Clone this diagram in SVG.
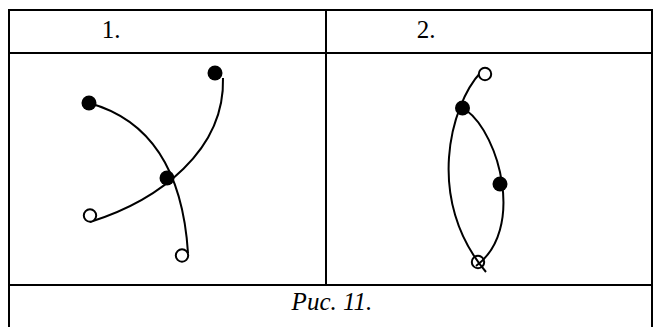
<svg xmlns="http://www.w3.org/2000/svg" width="653" height="327" viewBox="0 0 653 327">
<style>
.grid{stroke:#000;stroke-width:2;fill:none}
.crv{stroke:#000;stroke-width:2;fill:none}
.dot{fill:#000}
.ring{fill:#fff;stroke:#000;stroke-width:2}
.t{font-family:"Liberation Serif","Times New Roman",serif;font-size:25px;fill:#000}
.it{font-style:italic}
</style>
<g id="table">
<path class="grid" d="M9,327 V10 H652 V327 M9,53 H652 M9,285 H652 M326,10 V285"/>
</g>
<g id="header1"><text class="t" x="111" y="38" text-anchor="middle">1.</text></g>
<g id="header2"><text class="t" x="426" y="38" text-anchor="middle">2.</text></g>
<g id="caption"><text class="t it" x="332" y="310" text-anchor="middle">Рис. 11.</text></g>
<g id="connectors">
<path class="crv" d="M89,103 Q180,128 188,253"/>
<path class="crv" d="M223,78 C225,150 160,200 90,222"/>
<path class="crv" d="M481,72 C450,105 425,200 486,272"/>
<path class="crv" d="M466,110 C500,135 525,230 476,266"/>
</g>
<g id="p1a"><circle class="dot" cx="89" cy="103" r="7.5"/></g>
<g id="p1b"><circle class="dot" cx="215" cy="73" r="7.5"/></g>
<g id="p1c"><circle class="dot" cx="167" cy="178" r="7.5"/></g>
<g id="p1d"><circle class="ring" cx="90" cy="215.5" r="6.2"/></g>
<g id="p1e"><circle class="ring" cx="182" cy="255.5" r="6.2"/></g>
<g id="p2a"><circle class="ring" cx="485" cy="74" r="6.2"/></g>
<g id="p2b"><circle class="dot" cx="462.5" cy="108" r="7.5"/></g>
<g id="p2c"><circle class="dot" cx="500" cy="184" r="7.5"/></g>
<g id="p2d"><circle cx="478" cy="262" r="6.2" fill="none" stroke="#000" stroke-width="2"/></g>
</svg>
